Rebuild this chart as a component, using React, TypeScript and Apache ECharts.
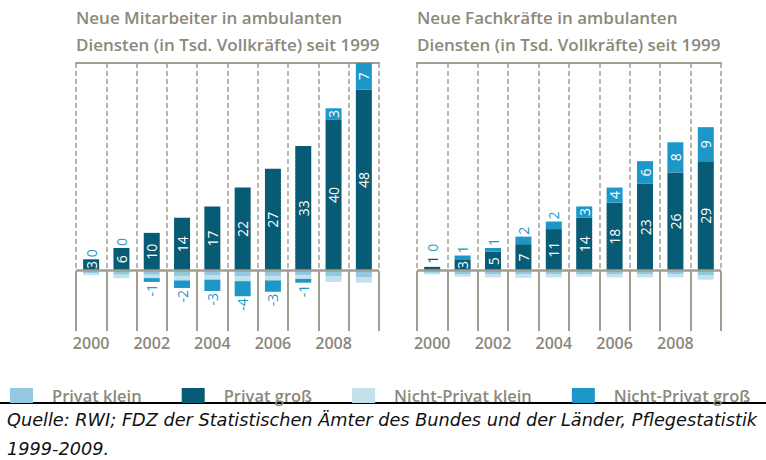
import React, { useEffect, useRef } from "react";
import * as echarts from "echarts";

const years = ["2000", "2001", "2002", "2003", "2004", "2005", "2006", "2007", "2008", "2009"];
const seriesNames = ["Privat klein", "Privat groß", "Nicht-Privat klein", "Nicht-Privat groß"];

// Left: Neue Mitarbeiter (Tsd. Vollkräfte)
const leftPrivatKlein = [-0.7, -1.1, -1.1, -1.4, -1.3, -1.5, -1.4, -1.2, -1.6, -1.7];
const leftPrivatGross = [3, 6, 10, 14, 17, 22, 27, 33, 40, 48];
const leftNichtPrivatKlein = [-0.5, -0.9, -0.9, -1.2, -1.1, -1.3, -1.2, -1.0, -1.4, -1.5];
const leftNichtPrivatGross = [0, 0, -1, -2, -3, -4, -3, -1, 3, 7];

// Right: Neue Fachkräfte (Tsd. Vollkräfte)
const rightPrivatKlein = [-0.6, -0.9, -1.0, -1.0, -1.0, -0.9, -1.0, -1.0, -1.0, -1.3];
const rightPrivatGross = [1, 3, 5, 7, 11, 14, 18, 23, 26, 29];
const rightNichtPrivatKlein = [-0.4, -0.7, -0.8, -0.9, -0.8, -0.7, -0.8, -0.8, -0.8, -1.1];
const rightNichtPrivatGross = [0, 1, 1, 2, 2, 3, 4, 6, 8, 9];

const titleLeft = "Neue Mitarbeiter in ambulanten\nDiensten (in Tsd. Vollkräfte) seit 1999";
const titleRight = "Neue Fachkräfte in ambulanten\nDiensten (in Tsd. Vollkräfte) seit 1999";
const sourceLine1 = "Quelle: RWI; FDZ der Statistischen Ämter des Bundes und der Länder, Pflegestatistik";
const sourceLine2 = "1999-2009.";

const FONT = "'Open Sans', 'DejaVu Sans', sans-serif";
const SRC_FONT = "'DejaVu Sans', sans-serif";
const GRAY = "#8b887c";
const LINE = "#a19e92";
const C_PK = "#93c8de";
const C_PG = "#075b75";
const C_NPK = "#c2e1eb";
const C_NPG = "#1d97c7";

const labelBase = {
  show: true,
  rotate: 90,
  fontSize: 14,
  fontFamily: FONT,
  verticalAlign: "middle" as const,
};

function privatGrossItems(vals: number[]) {
  return vals.map((v) => {
    const label =
      v >= 3
        ? { ...labelBase, position: "inside", align: "center", color: "#ffffff" }
        : { ...labelBase, position: "top", align: "left", distance: 3, color: C_PG };
    return { value: v, label: { ...label, formatter: String(v) } };
  });
}

function nichtPrivatGrossItems(vals: number[], pg: number[]) {
  return vals.map((v, i) => {
    let label: any;
    if (v >= 3) label = { ...labelBase, position: "inside", align: "center", color: "#ffffff" };
    else if (v >= 0)
      label = { ...labelBase, position: "top", align: "left", distance: pg[i] < 3 ? 15 : 2, color: C_NPG };
    else label = { ...labelBase, position: "bottom", align: "right", distance: 2, color: C_NPG };
    return { value: v === 0 ? 1e-6 : v, label: { ...label, formatter: String(v) } };
  });
}

function buildSeries(idx: number, pk: number[], pg: number[], npk: number[], npg: number[]) {
  const stack = "s" + idx;
  const common = {
    type: "bar" as const,
    stack,
    xAxisIndex: idx * 2,
    yAxisIndex: idx,
    barWidth: 16,
  };
  return [
    { ...common, name: seriesNames[0], data: pk, itemStyle: { color: C_PK } },
    { ...common, name: seriesNames[1], data: privatGrossItems(pg), itemStyle: { color: C_PG } },
    { ...common, name: seriesNames[2], data: npk, itemStyle: { color: C_NPK } },
    {
      ...common,
      name: seriesNames[3],
      data: nichtPrivatGrossItems(npg, pg),
      itemStyle: { color: C_NPG },
      markLine: {
        silent: true,
        symbol: "none",
        label: { show: false },
        lineStyle: { color: LINE, width: 2.5, type: "solid" },
        data: [{ yAxis: 0 }],
      },
    },
  ];
}

function bottomAxis(gridIndex: number) {
  return {
    type: "category" as const,
    gridIndex,
    data: years,
    position: "bottom" as const,
    axisLine: { show: true, onZero: false, lineStyle: { color: LINE, opacity: 0 } },
    axisTick: { show: true, inside: true, length: 60, interval: 0, lineStyle: { color: LINE, width: 2 } },
    splitLine: { show: true, interval: 0, lineStyle: { color: LINE, width: 1.5, type: [5, 3] } },
    axisLabel: {
      interval: 1,
      margin: 4,
      fontSize: 16,
      fontWeight: 600,
      color: GRAY,
      fontFamily: FONT,
    },
  };
}

function topAxis(gridIndex: number) {
  return {
    type: "category" as const,
    gridIndex,
    data: years,
    position: "top" as const,
    axisLine: { show: true, onZero: false, lineStyle: { color: LINE, width: 2 } },
    axisTick: { show: false },
    axisLabel: { show: false },
    splitLine: { show: false },
  };
}

const titleStyle = { fontSize: 17, fontWeight: 600, color: GRAY, fontFamily: FONT, lineHeight: 27 };
const srcStyle = {
  fontSize: 17.7,
  fontWeight: "normal",
  fontStyle: "italic",
  color: "#111111",
  fontFamily: SRC_FONT,
  lineHeight: 20,
};

export default function App() {
  const ref = useRef<HTMLDivElement>(null);
  useEffect(() => {
    document.body.style.margin = "0";
    if (!ref.current) return;
    const chart = echarts.init(ref.current, null, { renderer: "svg" });
    chart.setOption({
      animation: false,
      backgroundColor: "#ffffff",
      title: [
        { text: titleLeft, left: 71, top: -1, textStyle: titleStyle },
        { text: titleRight, left: 412, top: -1, textStyle: titleStyle },
        { text: sourceLine1, left: 7, top: 410, padding: 0, textStyle: srcStyle },
        { text: sourceLine2, left: 7, top: 439, padding: 0, textStyle: srcStyle },
      ],
      legend: {
        data: seriesNames,
        left: 5,
        top: 382,
        icon: "rect",
        itemWidth: 23,
        itemHeight: 15,
        itemGap: 40,
        selectedMode: false,
        textStyle: { fontSize: 16.5, fontWeight: 600, color: GRAY, fontFamily: FONT, padding: [0, 0, 0, 14] },
      },
      grid: [
        { left: 76, top: 63, width: 303, height: 268 },
        { left: 417, top: 63, width: 304, height: 268 },
      ],
      xAxis: [bottomAxis(0), topAxis(0), bottomAxis(1), topAxis(1)],
      yAxis: [
        { type: "value", gridIndex: 0, min: -16, max: 55, show: false },
        { type: "value", gridIndex: 1, min: -16, max: 55, show: false },
      ],
      graphic: [
        {
          type: "line",
          shape: { x1: 0, y1: 403, x2: 766, y2: 403 },
          style: { stroke: "#000000", lineWidth: 2 },
        },
      ],
      series: [
        ...buildSeries(0, leftPrivatKlein, leftPrivatGross, leftNichtPrivatKlein, leftNichtPrivatGross),
        ...buildSeries(1, rightPrivatKlein, rightPrivatGross, rightNichtPrivatKlein, rightNichtPrivatGross),
      ],
    });
    return () => chart.dispose();
  }, []);
  return <div ref={ref} style={{ width: 766, height: 460 }} />;
}
